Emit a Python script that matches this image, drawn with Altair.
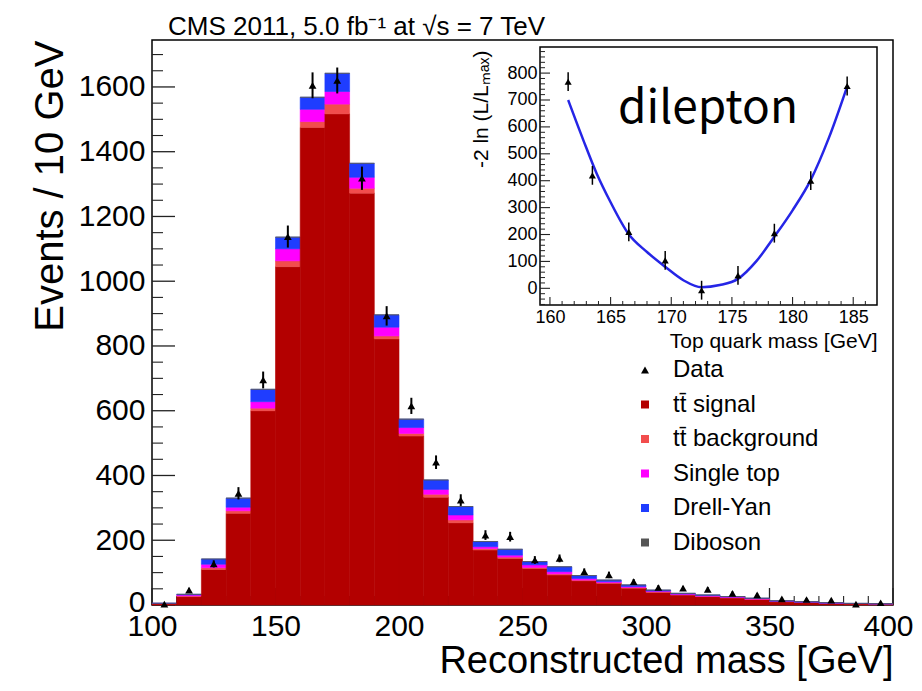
import altair as alt
import pandas as pd

FONT = "Liberation Sans"

# ---------------- main histogram (10 GeV bins) ----------------
bin_lo = [100, 110, 120, 130, 140, 150, 160, 170, 180, 190,
          200, 210, 220, 230, 240, 250, 260, 270, 280, 290,
          300, 310, 320, 330, 340, 350, 360, 370, 380, 390]
signal = [4, 26, 110, 283, 600, 1045, 1475, 1517, 1272, 822,
          522, 333, 254, 170, 144, 113, 93, 75, 67, 52,
          39, 31, 26, 22, 17, 10, 8, 5, 4, 3]
tt_bkg = [0.5, 2, 5, 8, 8, 18, 18, 30, 15, 9,
          8, 9, 9, 4, 4, 3, 3, 2, 2, 2,
          2, 1, 1, 1, 1, 1, 0.5, 0.5, 0.3, 0.3]
single_top = [0.5, 3, 11, 11, 20, 37, 38, 39, 34, 27,
              18, 15, 15, 6, 6, 8, 7, 5, 3, 3,
              2, 2, 2, 2, 2, 1, 0.5, 0.5, 0.3, 0.3]
drell_yan = [0.5, 2, 16, 28, 38, 36, 37, 56, 43, 38,
             26, 29, 26, 16, 18, 10, 15, 9, 5, 5,
             3, 2, 2, 1, 1, 1, 1, 1, 0.4, 0.4]
diboson = [0, 0, 0.2, 0.3, 0.3, 0.4, 0.4, 0.4, 0.4, 0.3,
           0.3, 0.3, 0.2, 0.2, 0.2, 0.2, 0.2, 0.1, 0.1, 0.1,
           0.1, 0.1, 0.1, 0.1, 0.1, 0.1, 0.1, 0.1, 0.1, 0.1]
data_counts = [3, 46, 127, 345, 695, 1138, 1605, 1620, 1318, 893,
               615, 441, 324, 216, 211, 139, 144, 103, 93, 72,
               54, 52, 48, 36, 31, 19, 17, 15, 3, 7]
data_err = [2, 7, 11, 19, 26, 34, 40, 40, 36, 30,
            25, 21, 18, 15, 15, 12, 12, 10, 10, 8,
            7, 7, 7, 6, 6, 4, 4, 4, 2, 3]

legend_labels = ["Data", "tt\u0304 signal", "tt\u0304 background", "Single top", "Drell-Yan", "Diboson"]
legend_colors = ["#000000", "#b30000", "#f24d4d", "#ff00ff", "#1f3dff", "#555555"]
legend_shapes = ["triangle-up", "square", "square", "square", "square", "square"]

x_major = [100, 150, 200, 250, 300, 350, 400]
y_major = [0, 200, 400, 600, 800, 1000, 1200, 1400, 1600]

# ---------------- inset: likelihood scan ----------------
mt_points = [161.5, 163.5, 166.5, 169.5, 172.5, 175.5, 178.5, 181.5, 184.5]
nll_points = [768, 420, 210, 104, -7, 48, 205, 400, 752]
nll_err = [35, 35, 35, 35, 35, 35, 35, 35, 35]
fit_mt = [161.5, 162.75, 163.85, 165.0, 166.45, 168.0, 169.5, 171.0, 172.5,
          174.0, 175.5, 177.0, 178.5, 180.0, 181.5, 183.0, 184.5]
fit_nll = [700, 551, 427, 320, 204, 135, 80, 30, 4,
           12, 35, 100, 192, 290, 403, 560, 750]
inset_x_major = [160, 165, 170, 175, 180, 185]
inset_y_major = [0, 100, 200, 300, 400, 500, 600, 700, 800]

TITLE = "CMS 2011, 5.0 fb\u207b\u00b9 at \u221as = 7 TeV"

# ---------------- layout ----------------
W, H = 741, 565
IX0, IX1, IY0, IY1 = 388, 725, 7, 265   # inset frame in plot pixels

XS = alt.Scale(domain=[100, 400], nice=False, zero=False)
YS = alt.Scale(domain=[0, 1745], nice=False, zero=False)
IXS = alt.Scale(domain=[159.18, 186.96], range=[IX0, IX1], nice=False, zero=False)
IYS = alt.Scale(domain=[-62, 897], range=[IY1, IY0], nice=False, zero=False)

# stacked bar table
comp_names = ["signal", "ttbkg", "single", "dy", "diboson"]
comp_vals = [signal, tt_bkg, single_top, drell_yan, diboson]
comp_cols = ["#b30000", "#f24d4d", "#ff00ff", "#1f3dff", "#555555"]
rows = []
for i, lo in enumerate(bin_lo):
    base = 0.0
    for name, vals, col in zip(comp_names, comp_vals, comp_cols):
        top = base + vals[i]
        rows.append({"lo": lo, "hi": lo + 10, "y0": base, "y1": top, "col": col, "comp": name})
        base = top
df_bars = pd.DataFrame(rows)

df_data = pd.DataFrame({
    "xc": [b + 5 for b in bin_lo],
    "n": data_counts,
    "elo": [n - e for n, e in zip(data_counts, data_err)],
    "ehi": [n + e for n, e in zip(data_counts, data_err)],
    "label": ["Data"] * len(bin_lo),
})

x_axis = alt.Axis(values=x_major, format="d", orient="bottom", tickSize=0, domain=False, grid=False,
                  labelFontSize=30, labelPadding=6, labelBaseline="top", labelFlush=False,
                  labelOverlap=False,
                  labelOffset={"condition": {"test": "datum.value == 400", "value": -5}, "value": 0},
                  title="Reconstructed mass [GeV]", titleFontSize=38,
                  titleX=W, titleY=67, titleAlign="right", titleAnchor="end",
                  titleBaseline="alphabetic")
y_axis = alt.Axis(values=y_major, format="d", orient="left", tickSize=0, domain=False, grid=False,
                  labelFontSize=30, labelPadding=7, labelFlush=False, labelOverlap=False,
                  labelOffset={"condition": {"test": "datum.value == 0", "value": -3}, "value": 0},
                  title="Events / 10 GeV", titleFontSize=40, titleAngle=270,
                  titleX=-90, titleY=0, titleAlign="right", titleAnchor="end",
                  titleBaseline="alphabetic")

bars = alt.Chart(df_bars).mark_bar(strokeWidth=0.6).encode(
    x=alt.X("lo:Q", scale=XS, axis=x_axis),
    x2="hi:Q",
    y=alt.Y("y0:Q", scale=YS, axis=y_axis),
    y2="y1:Q",
    color=alt.Color("col:N", scale=None),
    stroke=alt.Stroke("col:N", scale=None),
)

errs = alt.Chart(df_data).mark_rule(color="black", strokeWidth=2).encode(
    x=alt.X("xc:Q", scale=XS, axis=None),
    y=alt.Y("elo:Q", scale=YS, axis=None),
    y2="ehi:Q",
)

leg = alt.Legend(orient="none", legendX=481, legendY=318, title=None,
                 labelFontSize=24, labelFont=FONT, labelColor="black",
                 symbolSize=64, rowPadding=10.5, labelOffset=16, padding=0,
                 symbolStrokeWidth=0, labelLimit=400)

pts = alt.Chart(df_data).mark_point(filled=True, size=60, opacity=1).encode(
    x=alt.X("xc:Q", scale=XS, axis=None),
    y=alt.Y("n:Q", scale=YS, axis=None),
    color=alt.Color("label:N", scale=alt.Scale(domain=legend_labels, range=legend_colors), legend=leg),
    shape=alt.Shape("label:N", scale=alt.Scale(domain=legend_labels, range=legend_shapes), legend=leg),
)

# inward ROOT-style ticks
y_minor = [v for v in range(50, 1745, 50) if v % 200 != 0]
x_minor = [v for v in range(110, 400, 10) if v % 50 != 0]
yt_major = alt.Chart(pd.DataFrame({"v": y_major})).mark_rule(color="#222", strokeWidth=1.3).encode(
    y=alt.Y("v:Q", scale=YS, axis=None), x=alt.value(0), x2=alt.value(23))
yt_minor = alt.Chart(pd.DataFrame({"v": y_minor})).mark_rule(color="#222", strokeWidth=1.1).encode(
    y=alt.Y("v:Q", scale=YS, axis=None), x=alt.value(0), x2=alt.value(11))
xt_major = alt.Chart(pd.DataFrame({"v": x_major})).mark_rule(color="#222", strokeWidth=1.3).encode(
    x=alt.X("v:Q", scale=XS, axis=None), y=alt.value(H), y2=alt.value(H - 17))
xt_minor = alt.Chart(pd.DataFrame({"v": x_minor})).mark_rule(color="#222", strokeWidth=1.1).encode(
    x=alt.X("v:Q", scale=XS, axis=None), y=alt.value(H), y2=alt.value(H - 9))

title_txt = alt.Chart(pd.DataFrame({"t": [TITLE]})).mark_text(
    align="left", baseline="alphabetic", fontSize=26, font=FONT, color="black").encode(
    text="t:N", x=alt.value(16), y=alt.value(-5))

# ---------------- inset ----------------
ix_axis = alt.Axis(values=inset_x_major, format="d", orient="bottom", offset=-(H - IY1),
                   tickSize=0, domain=False, grid=False, labelFontSize=18, labelPadding=3,
                   labelBaseline="top", labelFlush=False, labelOverlap=False,
                   title="Top quark mass [GeV]", titleFontSize=21, titleX=IX1, titleY=42,
                   titleAlign="right", titleAnchor="end", titleBaseline="alphabetic")
iy_axis = alt.Axis(values=inset_y_major, format="d", orient="left", offset=-IX0,
                   tickSize=0, domain=False, grid=False, labelFontSize=18, labelPadding=3,
                   labelFlush=False, labelOverlap=False,
                   title="-2 ln (L/L\u2098\u2090\u2093)", titleFontSize=21, titleAngle=270,
                   titleX=-53, titleY=10, titleAlign="right", titleAnchor="end",
                   titleBaseline="alphabetic")

frame = alt.Chart(pd.DataFrame({"a": [0]})).mark_rect(
    fill="white", stroke="black", strokeWidth=1.5).encode(
    x=alt.value(IX0), x2=alt.value(IX1), y=alt.value(IY0), y2=alt.value(IY1))

ix_minor = [v for v in range(160, 187) if v % 5 != 0]
iy_minor = [v for v in range(-60, 897, 20) if v % 100 != 0]
ixt_major = alt.Chart(pd.DataFrame({"v": inset_x_major})).mark_rule(color="#222", strokeWidth=1.1).encode(
    x=alt.X("v:Q", scale=IXS, axis=None), y=alt.value(IY1), y2=alt.value(IY1 - 8))
ixt_minor = alt.Chart(pd.DataFrame({"v": ix_minor})).mark_rule(color="#222", strokeWidth=1).encode(
    x=alt.X("v:Q", scale=IXS, axis=None), y=alt.value(IY1), y2=alt.value(IY1 - 4))
iyt_major = alt.Chart(pd.DataFrame({"v": inset_y_major})).mark_rule(color="#222", strokeWidth=1.1).encode(
    y=alt.Y("v:Q", scale=IYS, axis=None), x=alt.value(IX0), x2=alt.value(IX0 + 10))
iyt_minor = alt.Chart(pd.DataFrame({"v": iy_minor})).mark_rule(color="#222", strokeWidth=1).encode(
    y=alt.Y("v:Q", scale=IYS, axis=None), x=alt.value(IX0), x2=alt.value(IX0 + 5))

df_fit = pd.DataFrame({"m": fit_mt, "v": fit_nll})
curve = alt.Chart(df_fit).mark_line(color="#2525e6", strokeWidth=2.5, interpolate="monotone").encode(
    x=alt.X("m:Q", scale=IXS, axis=ix_axis),
    y=alt.Y("v:Q", scale=IYS, axis=iy_axis),
)

df_scan = pd.DataFrame({
    "m": mt_points, "v": nll_points,
    "lo": [v - e for v, e in zip(nll_points, nll_err)],
    "hi": [v + e for v, e in zip(nll_points, nll_err)],
})
ierr = alt.Chart(df_scan).mark_rule(color="black", strokeWidth=1.5).encode(
    x=alt.X("m:Q", scale=IXS, axis=None), y=alt.Y("lo:Q", scale=IYS, axis=None), y2="hi:Q")
ipts = alt.Chart(df_scan).mark_point(filled=True, size=50, shape="triangle-up", color="black", opacity=1).encode(
    x=alt.X("m:Q", scale=IXS, axis=None), y=alt.Y("v:Q", scale=IYS, axis=None))

dil = alt.Chart(pd.DataFrame({"t": ["dilepton"]})).mark_text(
    align="left", baseline="alphabetic", fontSize=46, font="Noto Sans CJK JP", color="black").encode(
    text="t:N", x=alt.value(466), y=alt.value(83))

chart = alt.layer(
    yt_minor, yt_major, xt_minor, xt_major, bars, errs, pts, title_txt,
    frame, ixt_minor, ixt_major, iyt_minor, iyt_major, curve, ierr, ipts, dil,
).resolve_scale(x="independent", y="independent").properties(
    width=W, height=H,
    autosize=alt.AutoSizeParams(type="none"),
    padding={"left": 144, "top": 32, "right": 21, "bottom": 78},
    background="white",
).configure_view(stroke="black", strokeWidth=1.5).configure_axis(
    labelFont=FONT, titleFont=FONT, labelColor="black", titleColor="black",
    titleFontWeight="normal", grid=False,
)

chart.save("out.html", embed_options={"renderer": "svg", "actions": False})
